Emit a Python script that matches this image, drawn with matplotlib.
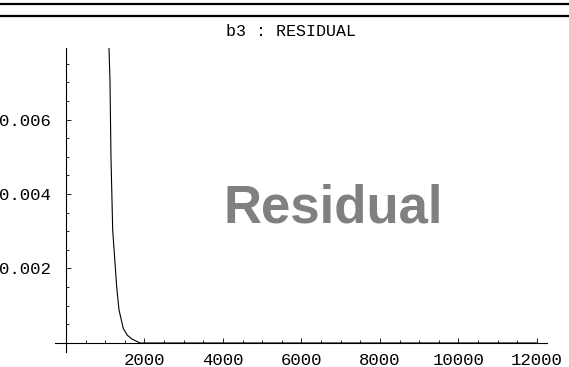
import matplotlib.pyplot as plt
from matplotlib.lines import Line2D
from matplotlib.ticker import MultipleLocator, FixedLocator, FixedFormatter

# residual vs. iteration
iters = [1090, 1096, 1121, 1146, 1190, 1292, 1350, 1460, 1562, 1674, 1885, 2500, 12000]
resid = [0.0081, 0.00789, 0.00706, 0.00499, 0.00303, 0.00150, 0.00089, 0.00039,
         0.00021, 0.00011, 0.0, 0.0, 0.0]

xticks = [2000, 4000, 6000, 8000, 10000, 12000]
xlabels = ['2000', '4000', '6000', '8000', '10000', '12000']
yticks = [0.002, 0.004, 0.006]
ylabels = ['0.002', '0.004', '0.006']

W, H = 569, 367
fig = plt.figure(figsize=(W / 100, H / 100), dpi=100)
ax = fig.add_axes([55 / W, (H - 352) / H, (547 - 55) / W, (352 - 48) / H])

ax.plot(iters, resid, color='black', lw=0.8)

ax.set_xlim(-280, 12255)
ax.set_ylim(-0.000242, 0.00792)

for s in ['top', 'right']:
    ax.spines[s].set_visible(False)
ax.spines['left'].set_position(('data', 0))
ax.spines['bottom'].set_position(('data', 0))
for s in ['left', 'bottom']:
    ax.spines[s].set_linewidth(0.8)

ax.xaxis.set_major_locator(FixedLocator(xticks))
ax.xaxis.set_major_formatter(FixedFormatter(xlabels))
ax.xaxis.set_minor_locator(MultipleLocator(500))
ax.yaxis.set_major_locator(FixedLocator(yticks))
ax.yaxis.set_major_formatter(FixedFormatter(ylabels))
ax.yaxis.set_minor_locator(MultipleLocator(0.0005))

ax.tick_params(which='both', direction='in', width=0.6, colors='black')
ax.tick_params(which='major', length=3.5)
ax.tick_params(which='minor', length=2)
ax.tick_params(axis='x', which='major', pad=7)
ax.tick_params(axis='y', which='major', pad=11)
for lab in ax.get_xticklabels() + ax.get_yticklabels():
    lab.set_fontfamily('Liberation Mono')
    lab.set_fontsize(12.5)

# header rules and title
for ypx in (4, 16):
    fig.add_artist(Line2D([0, 1], [1 - ypx / H, 1 - ypx / H], color='black', lw=1.6,
                          transform=fig.transFigure))
fig.text(291 / W, 1 - 31 / H, 'b3 : RESIDUAL', ha='center', va='center',
         fontfamily='Liberation Mono', fontsize=12)

fig.text(333.5 / W, 1 - 208 / H, 'Residual', ha='center', va='center',
         fontfamily='Liberation Sans', fontweight='bold', fontsize=38, color='#808080')

fig.savefig('out.png', dpi=100)
